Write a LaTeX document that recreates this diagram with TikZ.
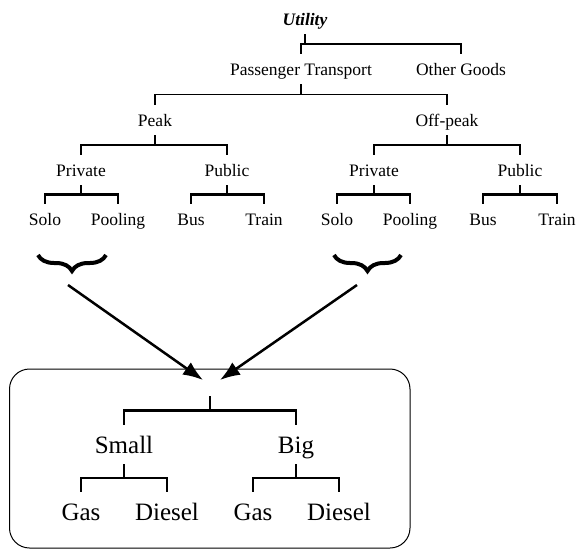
\documentclass[tikz,border=0pt]{standalone}
\usepackage{fontspec}
\setmainfont{Liberation Serif}
\usetikzlibrary{calc,arrows.meta,decorations.pathreplacing}

\tikzset{
  fork/.style={to path={(\tikztostart) |- ($(\tikztostart)!0.5!(\tikztotarget)$) -| (\tikztotarget)}},
  upper/.style={anchor=base,inner xsep=0pt,inner ysep=7pt,text height=14pt,text depth=2pt,font=\fontsize{17.5}{20}\selectfont},
  lower/.style={anchor=base,inner xsep=0pt,inner ysep=9pt,text height=19pt,text depth=2pt,font=\fontsize{25}{28}\selectfont},
  groupbrace/.style={decorate,decoration={brace,mirror,amplitude=16pt},line width=4pt},
  link/.style={line width=2.5pt,-{Latex[length=20pt,width=15pt]}}
}

\begin{document}
\begin{tikzpicture}[x=1pt,y=-1pt]
  \useasboundingbox (0,0) rectangle (579,550);

  \node (utility) at (305,25)  [upper,font=\fontsize{17.5}{20}\selectfont\bfseries\itshape] {Utility};
  \node (pt)      at (301,75)  [upper] {Passenger Transport};
  \node (other)   at (461,75)  [upper] {Other Goods};
  \node (peak)    at (155,126) [upper] {Peak};
  \node (offpeak) at (447,126) [upper] {Off-peak};
  \node (priv1)   at (81,176)  [upper] {Private};
  \node (pub1)    at (227,176) [upper] {Public};
  \node (priv2)   at (374,176) [upper] {Private};
  \node (pub2)    at (520,176) [upper] {Public};
  \node (solo1)   at (45,225)  [upper] {Solo};
  \node (pool1)   at (118,225) [upper] {Pooling};
  \node (bus1)    at (191,225) [upper] {Bus};
  \node (train1)  at (264,225) [upper] {Train};
  \node (solo2)   at (337,225) [upper] {Solo};
  \node (pool2)   at (410,225) [upper] {Pooling};
  \node (bus2)    at (483,225) [upper] {Bus};
  \node (train2)  at (557,225) [upper] {Train};

  \draw[line width=1.2pt] (utility.south) edge[fork] (pt.north) edge[fork] (other.north);
  \draw[line width=1.2pt] (pt.south) edge[fork] (peak.north) edge[fork] (offpeak.north);
  \draw[line width=1.2pt] (peak.south) edge[fork] (priv1.north) edge[fork] (pub1.north);
  \draw[line width=1.2pt] (offpeak.south) edge[fork] (priv2.north) edge[fork] (pub2.north);
  \draw[line width=2.2pt] (priv1.south) edge[fork] (solo1.north) edge[fork] (pool1.north);
  \draw[line width=2.2pt] (pub1.south) edge[fork] (bus1.north) edge[fork] (train1.north);
  \draw[line width=2.2pt] (priv2.south) edge[fork] (solo2.north) edge[fork] (pool2.north);
  \draw[line width=2.2pt] (pub2.south) edge[fork] (bus2.north) edge[fork] (train2.north);

  \draw[groupbrace] (38,255) -- (106,255);
  \draw[groupbrace] (334,255) -- (401,255);

  \coordinate (peakfrom)    at (68,285);
  \coordinate (offpeakfrom) at (357,285);
  \coordinate (peakto)      at (203,380);
  \coordinate (offpeakto)   at (220,380);

  \draw[line width=1pt,rounded corners=20pt] (9.5,369) rectangle (410,548);

  \draw[link] (peakfrom) -- (peakto);
  \draw[link] (offpeakfrom) -- (offpeakto);

  \coordinate (vehicle) at (210,396);
  \node (small)   at (124,453) [lower] {Small};
  \node (big)     at (296,453) [lower] {Big};
  \node (gas1)    at (81,520)  [lower] {Gas};
  \node (diesel1) at (167,520) [lower] {Diesel};
  \node (gas2)    at (253,520) [lower] {Gas};
  \node (diesel2) at (339,520) [lower] {Diesel};

  \draw[line width=2.2pt] (vehicle) edge[fork] (small.north) edge[fork] (big.north);
  \draw[line width=2.2pt] (small.south) edge[fork] (gas1.north) edge[fork] (diesel1.north);
  \draw[line width=2.2pt] (big.south) edge[fork] (gas2.north) edge[fork] (diesel2.north);
\end{tikzpicture}
\end{document}
